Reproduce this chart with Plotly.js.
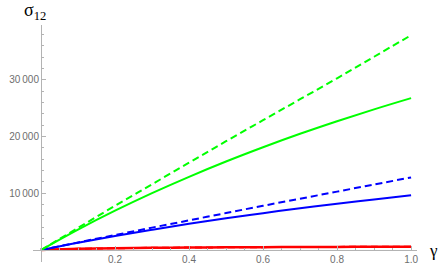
<!DOCTYPE html>
<html>
<head>
<meta charset="utf-8">
<script src="https://cdn.plot.ly/plotly-3.0.1.min.js"></script>
<style>html,body{margin:0;padding:0;background:#fff;}#chart{width:445px;height:273px;}</style>
</head>
<body>
<div id="chart"></div>
<script>
const gamma = [0, 0.1, 0.2, 0.3, 0.4, 0.5, 0.6, 0.7, 0.8, 0.9, 1.0];
const greenDashed = [0, 3900, 7800, 11600, 15400, 19200, 22900, 26600, 30300, 34100, 37900];
const greenSolid  = [0, 3600, 6930, 10030, 12910, 15610, 18130, 20500, 22720, 24820, 26800];
const blueDashed  = [0, 1330, 2640, 3950, 5230, 6520, 7800, 9050, 10300, 11560, 12800];
const blueSolid   = [0, 1280, 2470, 3580, 4620, 5590, 6500, 7360, 8170, 8930, 9650];
const redDashed   = [0, 205, 305, 385, 435, 475, 505, 530, 550, 565, 580];
const redSolid    = [0, 200, 300, 380, 430, 470, 500, 525, 545, 560, 575];
const xTickVals = [0.2, 0.4, 0.6, 0.8, 1.0];
const xTickText = ["0.2", "0.4", "0.6", "0.8", "1.0"];
const yTickVals = [10000, 20000, 30000];
const yTickText = ["10\u2009000", "20\u2009000", "30\u2009000"];

const GREEN = "#00ff00", BLUE = "#0000ff", RED = "#ff0000";
function tr(y, color, dash, w) {
  return {x: gamma, y: y, type: "scatter", mode: "lines", line: {color: color, width: w || 2, dash: dash || "solid", shape: "spline"}, hoverinfo: "skip"};
}
const data = [
  tr(redDashed, RED, "7px,4px", 2),
  tr(redSolid, RED, "solid", 2.5),
  tr(blueSolid, BLUE, "solid"),
  tr(blueDashed, BLUE, "7px,4px"),
  tr(greenSolid, GREEN, "solid"),
  tr(greenDashed, GREEN, "7px,4px")
];

const axisColor = "#b3b3b3";
const tickFont = {family: "Liberation Sans, Arial, sans-serif", size: 10, color: "#6e6e6e"};
const layout = {
  width: 445, height: 273,
  margin: {l: 33, r: 28, t: 25, b: 11, pad: 0},
  paper_bgcolor: "#ffffff", plot_bgcolor: "#ffffff",
  showlegend: false,
  xaxis: {
    range: [-0.0216, 1.016], anchor: "free", position: 0.0506,
    showgrid: false, zeroline: false, showline: true, linecolor: axisColor, linewidth: 1,
    ticks: "inside", ticklen: 4, tickcolor: axisColor, tickwidth: 1,
    tickvals: xTickVals, ticktext: xTickText, tickfont: tickFont,
    minor: {dtick: 0.05, tick0: 0, ticks: "inside", ticklen: 2, tickcolor: axisColor, showgrid: false}
  },
  yaxis: {
    range: [-2118, 39700], anchor: "free", position: 0.0208,
    showgrid: false, zeroline: false, showline: true, linecolor: axisColor, linewidth: 1,
    ticks: "inside", ticklen: 4, tickcolor: axisColor, tickwidth: 1,
    tickvals: yTickVals, ticktext: yTickText, tickfont: tickFont,
    minor: {dtick: 2000, tick0: 0, ticks: "inside", ticklen: 2, tickcolor: axisColor, showgrid: false}
  },
  annotations: [
    {xref: "paper", yref: "paper", x: 1.025, y: 0.0506, xanchor: "left", yanchor: "middle",
     text: "γ", showarrow: false, font: {family: "Liberation Serif, Times New Roman, serif", size: 17, color: "#000"}},
    {xref: "paper", yref: "paper", x: -0.028, y: 1.0, xanchor: "left", yanchor: "bottom",
     text: "σ<sub>12</sub>", showarrow: false, font: {family: "Liberation Serif, Times New Roman, serif", size: 18, color: "#000"}}
  ]
};
Plotly.newPlot("chart", data, layout, {displayModeBar: false, staticPlot: true});
</script>
</body>
</html>
